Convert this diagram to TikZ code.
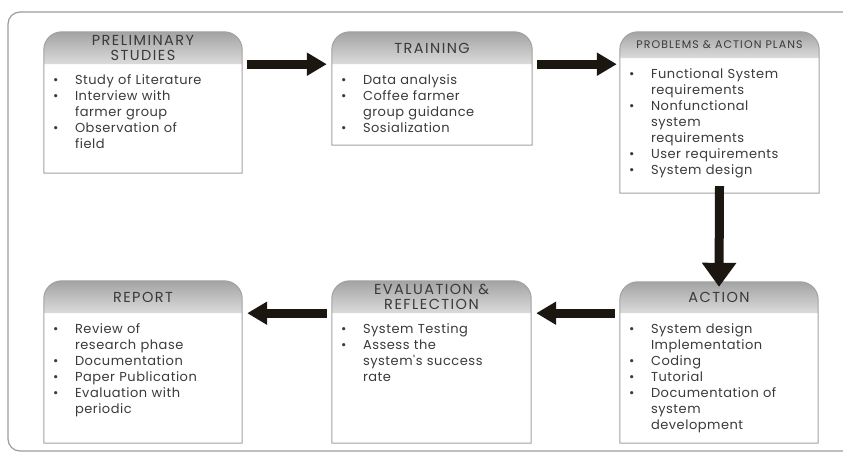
\documentclass[tikz,border=0pt]{standalone}
\usepackage{fontspec}
\setmainfont{Poppins}
\newfontfamily\bodyfont[LetterSpace=4]{Poppins}
\newfontfamily\titlefont[LetterSpace=10]{Poppins}
\usepackage{enumitem}
\usetikzlibrary{arrows.meta,fit}
\definecolor{arrowink}{HTML}{1C1611}
\definecolor{textink}{HTML}{3A3A3A}
\definecolor{boxedge}{HTML}{A2A2A2}
\definecolor{frameedge}{HTML}{9C9C9C}
\setlist[itemize]{label=\textbullet,leftmargin=27pt,labelwidth=10pt,labelindent=5pt,labelsep=*,align=left,itemsep=0pt,parsep=0pt,topsep=0pt,partopsep=0pt}
\tikzset{
  boxline/.style={draw=boxedge,line width=1pt},
  headshade/.style={top color=black!36,bottom color=black!14},
  stagetitle/.style={font=\titlefont\fontsize{14.5}{15.5}\selectfont,text=textink,align=center,inner sep=0pt},
  itemtext/.style={font=\bodyfont\fontsize{13}{16}\selectfont,text=textink,inner sep=0pt,text width=192pt,anchor=north west},
  bigarrow/.style={line width=9pt,draw=arrowink,-{Triangle[length=20pt,width=22pt]}},
}
% one stage box: name #1, left #2, top #3, right #4, header bottom #5, bottom #6, title #7, items #8
\newcommand{\stagebox}[8]{%
  \node[fit={(#2,#3) (#4,#6)},inner sep=0pt] (#1) {};
  \node[fit={(#2,#3) (#4,#5)},inner sep=0pt] (#1-head) {};
  \shade[headshade] (#1-head.south west) [rounded corners=18pt] -- (#1-head.north west) -- (#1-head.north east) [sharp corners] -- (#1-head.south east) -- cycle;
  \draw[boxline] (#1.south west) [rounded corners=18pt] -- (#1.north west) -- (#1.north east) [sharp corners] -- (#1.south east) -- cycle;
  \node[stagetitle] (#1-title) at (#1-head.center) {#7};
  \node[itemtext] (#1-list) at ([xshift=4pt,yshift=-4pt]#1-head.south west) {\raggedright\begin{itemize}#8\end{itemize}};
}
\begin{document}
\begin{tikzpicture}[x=1pt,y=-1pt]
\useasboundingbox (0,0) rectangle (843,453);
% outer frame, open to the right
\draw[frameedge,line width=1.2pt,rounded corners=12pt] (900,12) -- (8,12) -- (8,451) -- (900,451);
% top row
\stagebox{prelim}{44}{32}{242}{64}{173}{PRELIMINARY\\STUDIES}{%
  \item Study of Literature
  \item Interview with\\farmer group
  \item Observation of\\field}
\stagebox{train}{332}{32}{532}{64}{145}{TRAINING}{%
  \item Data analysis
  \item Coffee farmer\\group guidance
  \item Sosialization}
\stagebox{plans}{620}{32}{819}{58}{193}{\fontsize{11}{12}\selectfont PROBLEMS \& ACTION PLANS}{%
  \item Functional System\\requirements
  \item Nonfunctional\\system\\requirements
  \item User requirements
  \item System design}
% bottom row
\stagebox{action}{620}{282}{818}{313}{443}{ACTION}{%
  \item System design\\Implementation
  \item Coding
  \item Tutorial
  \item Documentation of\\system\\development}
\stagebox{eval}{332}{281}{531}{313}{443}{EVALUATION \&\\REFLECTION}{%
  \item System Testing
  \item Assess the\\system's success\\rate}
\stagebox{report}{44}{281}{242}{313}{443}{REPORT}{%
  \item Review of\\research phase
  \item Documentation
  \item Paper Publication
  \item Evaluation with\\periodic}
% flow arrows
\draw[bigarrow] ([xshift=5pt]prelim-head.south east) -- ([xshift=-5pt]train-head.south west);
\draw[bigarrow] ([xshift=5pt]train-head.south east) -- ([xshift=-3pt]plans-head.south west |- train-head.south);
\draw[bigarrow,-{Triangle[length=24pt,width=33pt]}] ([yshift=7pt]plans.south) -- ([yshift=-5pt]action.north);
\draw[bigarrow] ([xshift=-5pt]action-head.south west) -- ([xshift=5pt]eval-head.south east);
\draw[bigarrow] ([xshift=-5pt]eval-head.south west) -- ([xshift=5pt]report-head.south east);
\end{tikzpicture}
\end{document}
